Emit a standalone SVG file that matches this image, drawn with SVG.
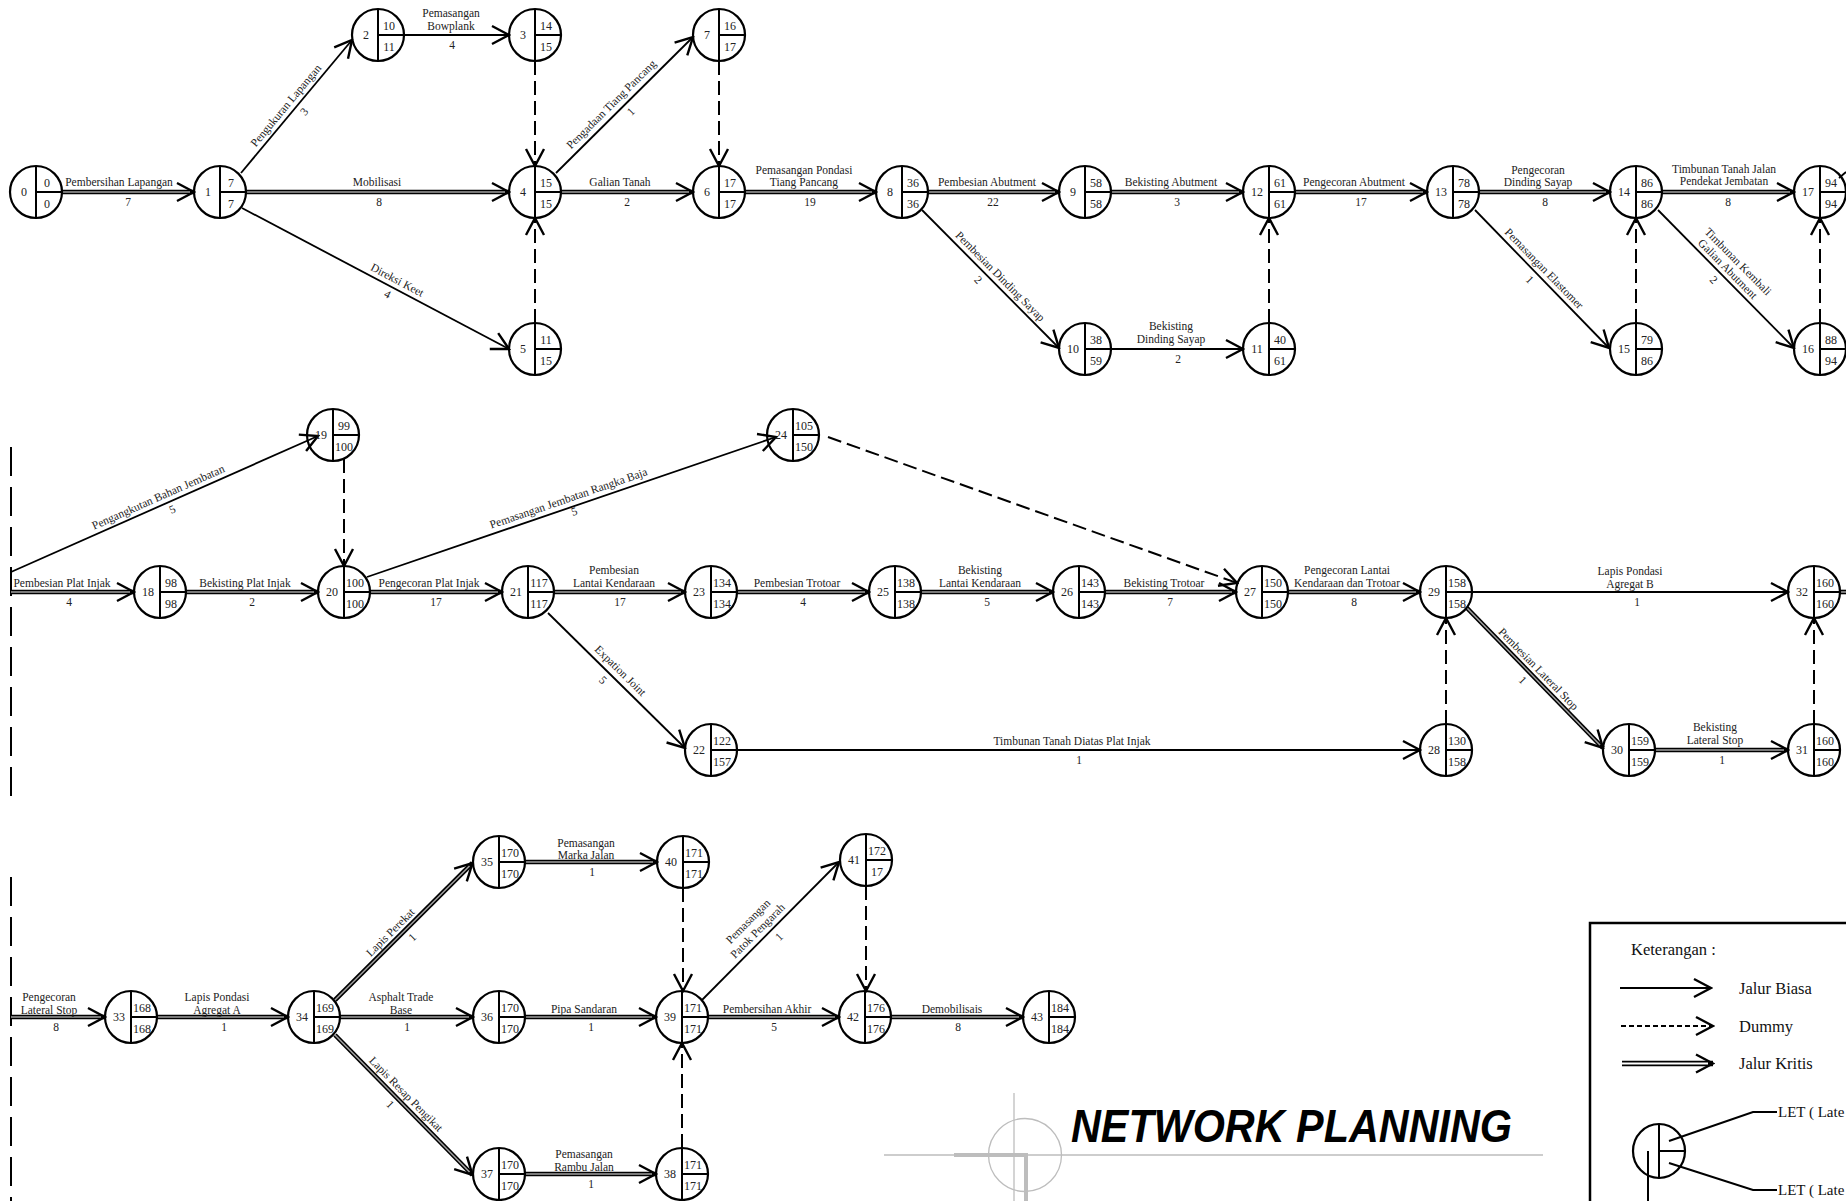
<svg xmlns="http://www.w3.org/2000/svg" width="1846" height="1201" viewBox="0 0 1846 1201">
<defs>
<marker id="ah" viewBox="-20 -12 22 24" refX="0" refY="0" markerWidth="22" markerHeight="24" markerUnits="userSpaceOnUse" orient="auto">
<path d="M-17,-9 L0,0 L-17,9" fill="none" stroke="#000" stroke-width="2.4"/>
</marker>
<style>
text{font-family:"Liberation Serif","Times New Roman",serif;font-size:11.5px;fill:#222}
.lb{text-anchor:middle}
.node circle{fill:none;stroke:#000;stroke-width:2.2}
.node line{stroke:#000;stroke-width:2}
.node text{font-size:12px;text-anchor:middle}
.nm{stroke:#000;stroke-width:1.8;fill:none;marker-end:url(#ah)}
.cr{stroke:#000;stroke-width:4.6;fill:none;marker-end:url(#ah)}
.ci{stroke:#a0a0a0;stroke-width:1.5;fill:none}
.dm{stroke:#000;stroke-width:2;stroke-dasharray:14 6;fill:none;marker-end:url(#ah)}
.brk{stroke:#000;stroke-width:2;stroke-dasharray:29 11;fill:none}
.gr{stroke:#bdbdbd;fill:none}
.lg{font-size:16.5px;fill:#111}
.lt{font-size:15px;fill:#111}
</style>
</defs>
<rect width="1846" height="1201" fill="#fff"/>

<g id="connectors">
<line class="cr" x1="62" y1="192" x2="194" y2="192"/><line class="ci" x1="62" y1="192" x2="190" y2="192"/>
<line class="cr" x1="246" y1="192" x2="509" y2="192"/><line class="ci" x1="246" y1="192" x2="505" y2="192"/>
<line class="nm" x1="241" y1="173" x2="352" y2="40"/>
<line class="nm" x1="242" y1="208" x2="509" y2="349"/>
<line class="nm" x1="404" y1="35" x2="509" y2="35"/>
<line class="dm" x1="535" y1="61" x2="535" y2="166"/>
<line class="dm" x1="535" y1="323" x2="535" y2="218"/>
<line class="cr" x1="561" y1="192" x2="693" y2="192"/><line class="ci" x1="561" y1="192" x2="689" y2="192"/>
<line class="nm" x1="556" y1="173" x2="693" y2="37"/>
<line class="dm" x1="719" y1="61" x2="719" y2="166"/>
<line class="cr" x1="745" y1="192" x2="876" y2="192"/><line class="ci" x1="745" y1="192" x2="872" y2="192"/>
<line class="cr" x1="928" y1="192" x2="1059" y2="192"/><line class="ci" x1="928" y1="192" x2="1055" y2="192"/>
<line class="nm" x1="922" y1="210" x2="1059" y2="348"/>
<line class="cr" x1="1111" y1="192" x2="1243" y2="192"/><line class="ci" x1="1111" y1="192" x2="1239" y2="192"/>
<line class="nm" x1="1111" y1="349" x2="1243" y2="349"/>
<line class="dm" x1="1269" y1="323" x2="1269" y2="218"/>
<line class="cr" x1="1295" y1="192" x2="1427" y2="192"/><line class="ci" x1="1295" y1="192" x2="1423" y2="192"/>
<line class="cr" x1="1479" y1="192" x2="1610" y2="192"/><line class="ci" x1="1479" y1="192" x2="1606" y2="192"/>
<line class="nm" x1="1475" y1="210" x2="1609" y2="348"/>
<line class="cr" x1="1662" y1="192" x2="1794" y2="192"/><line class="ci" x1="1662" y1="192" x2="1790" y2="192"/>
<line class="nm" x1="1658" y1="210" x2="1794" y2="348"/>
<line class="dm" x1="1636" y1="323" x2="1636" y2="218"/>
<line class="dm" x1="1820" y1="323" x2="1820" y2="218"/>
<line stroke="#000" stroke-width="1.8" x1="1839" y1="178" x2="1846" y2="172"/>
<line class="brk" x1="11" y1="447" x2="11" y2="797"/>
<line class="nm" x1="11" y1="572" x2="318" y2="436"/>
<line class="cr" x1="11" y1="592" x2="134" y2="592"/><line class="ci" x1="11" y1="592" x2="130" y2="592"/>
<line class="dm" x1="344" y1="459" x2="344" y2="566"/>
<line class="cr" x1="186" y1="592" x2="318" y2="592"/><line class="ci" x1="186" y1="592" x2="314" y2="592"/>
<line class="cr" x1="370" y1="592" x2="502" y2="592"/><line class="ci" x1="370" y1="592" x2="498" y2="592"/>
<line class="nm" x1="367" y1="577" x2="776" y2="437"/>
<line class="cr" x1="554" y1="592" x2="685" y2="592"/><line class="ci" x1="554" y1="592" x2="681" y2="592"/>
<line class="nm" x1="548" y1="613" x2="685" y2="748"/>
<line class="cr" x1="737" y1="592" x2="869" y2="592"/><line class="ci" x1="737" y1="592" x2="865" y2="592"/>
<line class="cr" x1="921" y1="592" x2="1053" y2="592"/><line class="ci" x1="921" y1="592" x2="1049" y2="592"/>
<line class="cr" x1="1105" y1="592" x2="1236" y2="592"/><line class="ci" x1="1105" y1="592" x2="1232" y2="592"/>
<line class="dm" x1="828" y1="437" x2="1237" y2="583"/>
<line class="nm" x1="737" y1="750" x2="1420" y2="750"/>
<line class="cr" x1="1288" y1="592" x2="1420" y2="592"/><line class="ci" x1="1288" y1="592" x2="1416" y2="592"/>
<line class="dm" x1="1446" y1="724" x2="1446" y2="618"/>
<line class="nm" x1="1472" y1="592" x2="1788" y2="592"/>
<line class="cr" x1="1467" y1="608" x2="1603" y2="748"/><line class="ci" x1="1467" y1="608" x2="1600" y2="745"/>
<line class="cr" x1="1655" y1="750" x2="1788" y2="750"/><line class="ci" x1="1655" y1="750" x2="1784" y2="750"/>
<line class="dm" x1="1814" y1="724" x2="1814" y2="618"/>
<line stroke="#000" stroke-width="4.6" x1="1840" y1="592" x2="1846" y2="592"/><line class="ci" x1="1840" y1="592" x2="1846" y2="592"/>
<line class="brk" x1="11" y1="877" x2="11" y2="1201"/>
<line class="cr" x1="11" y1="1017" x2="105" y2="1017"/><line class="ci" x1="11" y1="1017" x2="101" y2="1017"/>
<line class="cr" x1="157" y1="1017" x2="288" y2="1017"/><line class="ci" x1="157" y1="1017" x2="284" y2="1017"/>
<line class="cr" x1="335" y1="1000" x2="472.5" y2="863"/><line class="ci" x1="335" y1="1000" x2="469.5" y2="866"/>
<line class="cr" x1="340" y1="1017" x2="473" y2="1017"/><line class="ci" x1="340" y1="1017" x2="469" y2="1017"/>
<line class="cr" x1="335" y1="1035" x2="472.5" y2="1175"/><line class="ci" x1="335" y1="1035" x2="469.5" y2="1172"/>
<line class="cr" x1="525" y1="862" x2="657" y2="862"/><line class="ci" x1="525" y1="862" x2="653" y2="862"/>
<line class="cr" x1="525" y1="1017" x2="656" y2="1017"/><line class="ci" x1="525" y1="1017" x2="652" y2="1017"/>
<line class="cr" x1="525" y1="1174" x2="656" y2="1174"/><line class="ci" x1="525" y1="1174" x2="652" y2="1174"/>
<line class="dm" x1="683" y1="888" x2="683" y2="991"/>
<line class="dm" x1="682" y1="1148" x2="682" y2="1043"/>
<line class="nm" x1="702" y1="1000" x2="839" y2="862"/>
<line class="dm" x1="866" y1="886" x2="866" y2="991"/>
<line class="cr" x1="708" y1="1017" x2="839" y2="1017"/><line class="ci" x1="708" y1="1017" x2="835" y2="1017"/>
<line class="cr" x1="891" y1="1017" x2="1023" y2="1017"/><line class="ci" x1="891" y1="1017" x2="1019" y2="1017"/>
</g>

<g id="labels">
<text class="lb" x="119" y="186">Pembersihan Lapangan</text><text class="lb" x="128" y="206">7</text>
<text class="lb" x="377" y="186">Mobilisasi</text><text class="lb" x="379" y="206">8</text>
<text class="lb" x="451" y="17">Pemasangan</text><text class="lb" x="451" y="29.5">Bowplank</text><text class="lb" x="452" y="49">4</text>
<text class="lb" x="620" y="186">Galian Tanah</text><text class="lb" x="627" y="206">2</text>
<text class="lb" x="804" y="173.5">Pemasangan Pondasi</text><text class="lb" x="804" y="186">Tiang Pancang</text><text class="lb" x="810" y="206">19</text>
<text class="lb" x="987" y="186">Pembesian Abutment</text><text class="lb" x="993" y="206">22</text>
<text class="lb" x="1171" y="186">Bekisting Abutment</text><text class="lb" x="1177" y="206">3</text>
<text class="lb" x="1171" y="330">Bekisting</text><text class="lb" x="1171" y="343">Dinding Sayap</text><text class="lb" x="1178" y="363">2</text>
<text class="lb" x="1354" y="186">Pengecoran Abutment</text><text class="lb" x="1361" y="206">17</text>
<text class="lb" x="1538" y="173.5">Pengecoran</text><text class="lb" x="1538" y="186">Dinding Sayap</text><text class="lb" x="1545" y="206">8</text>
<text class="lb" x="1724" y="172.5">Timbunan Tanah Jalan</text><text class="lb" x="1724" y="185">Pendekat Jembatan</text><text class="lb" x="1728" y="206">8</text>
<g transform="translate(296.5 106.5) rotate(-50.2)"><text class="lb" x="-6" y="-5">Pengukuran Lapangan</text><text class="lb" x="1" y="13">3</text></g>
<g transform="translate(375.5 278.5) rotate(27.8)"><text class="lb" x="20" y="-5">Direksi Keet</text><text class="lb" x="18" y="12">4</text></g>
<g transform="translate(624.5 105) rotate(-44.8)"><text class="lb" x="-9" y="-6">Pengadaan Tiang Pancang</text><text class="lb" x="0" y="13">1</text></g>
<g transform="translate(990.5 279) rotate(45.2)"><text class="lb" x="5" y="-5">Pembesian Dinding Sayap</text><text class="lb" x="-8" y="13">2</text></g>
<g transform="translate(1542 279) rotate(45.8)"><text class="lb" x="-6" y="-5">Pemasangan Elastomer</text><text class="lb" x="-8" y="13">1</text></g>
<g transform="translate(1726 279) rotate(45.4)"><text class="lb" x="-4" y="-17">Timbunan Kembali</text><text class="lb" x="-6" y="-4.5">Galian Abutment</text><text class="lb" x="-8" y="13">2</text></g>

<text class="lb" x="62" y="587">Pembesian Plat Injak</text><text class="lb" x="69" y="606">4</text>
<text class="lb" x="245" y="587">Bekisting Plat Injak</text><text class="lb" x="252" y="606">2</text>
<text class="lb" x="429" y="587">Pengecoran Plat Injak</text><text class="lb" x="436" y="606">17</text>
<text class="lb" x="614" y="574">Pembesian</text><text class="lb" x="614" y="587">Lantai Kendaraan</text><text class="lb" x="620" y="606">17</text>
<text class="lb" x="797" y="587">Pembesian Trotoar</text><text class="lb" x="803" y="606">4</text>
<text class="lb" x="980" y="574">Bekisting</text><text class="lb" x="980" y="587">Lantai Kendaraan</text><text class="lb" x="987" y="606">5</text>
<text class="lb" x="1164" y="587">Bekisting Trotoar</text><text class="lb" x="1170" y="606">7</text>
<text class="lb" x="1347" y="574">Pengecoran Lantai</text><text class="lb" x="1347" y="587">Kendaraan dan Trotoar</text><text class="lb" x="1354" y="606">8</text>
<text class="lb" x="1630" y="575">Lapis Pondasi</text><text class="lb" x="1630" y="588">Agregat B</text><text class="lb" x="1637" y="606">1</text>
<text class="lb" x="1072" y="745">Timbunan Tanah Diatas Plat Injak</text><text class="lb" x="1079" y="764">1</text>
<text class="lb" x="1715" y="730.5">Bekisting</text><text class="lb" x="1715" y="744">Lateral Stop</text><text class="lb" x="1722" y="764">1</text>
<g transform="translate(164.5 504) rotate(-23.9)"><text class="lb" x="-3" y="-5">Pengangkutan Bahan Jembatan</text><text class="lb" x="5" y="12">5</text></g>
<g transform="translate(571.5 507) rotate(-18.9)"><text class="lb" x="0" y="-5.5">Pemasangan Jembatan Rangka Baja</text><text class="lb" x="1" y="9">5</text></g>
<g transform="translate(616.5 680.5) rotate(44.6)"><text class="lb" x="-4" y="-6">Expation Joint</text><text class="lb" x="-10" y="13">5</text></g>
<g transform="translate(1535 678) rotate(45.8)"><text class="lb" x="-4" y="-5">Pembesian Lateral Stop</text><text class="lb" x="-7" y="14">1</text></g>

<text class="lb" x="49" y="1001">Pengecoran</text><text class="lb" x="49" y="1013.5">Lateral Stop</text><text class="lb" x="56" y="1031">8</text>
<text class="lb" x="217" y="1001">Lapis Pondasi</text><text class="lb" x="217" y="1013.5">Agregat A</text><text class="lb" x="224" y="1031">1</text>
<text class="lb" x="401" y="1001">Asphalt Trade</text><text class="lb" x="401" y="1013.5">Base</text><text class="lb" x="407" y="1031">1</text>
<text class="lb" x="584" y="1013">Pipa Sandaran</text><text class="lb" x="591" y="1031">1</text>
<text class="lb" x="767" y="1013">Pembersihan Akhir</text><text class="lb" x="774" y="1031">5</text>
<text class="lb" x="952" y="1013">Demobilisais</text><text class="lb" x="958" y="1031">8</text>
<text class="lb" x="586" y="846.5">Pemasangan</text><text class="lb" x="586" y="859">Marka Jalan</text><text class="lb" x="592" y="876">1</text>
<text class="lb" x="584" y="1158">Pemasangan</text><text class="lb" x="584" y="1170.5">Rambu Jalan</text><text class="lb" x="591" y="1188">1</text>
<g transform="translate(403.7 931.5) rotate(-44.9)"><text class="lb" x="-10" y="-5">Lapis Perekat</text><text class="lb" x="2" y="14">1</text></g>
<g transform="translate(403.7 1105) rotate(45.5)"><text class="lb" x="-6" y="-5.5">Lapis Resap Pengikat</text><text class="lb" x="-10" y="13">1</text></g>
<g transform="translate(770.5 931) rotate(-45.2)"><text class="lb" x="-9" y="-19">Pemasangan</text><text class="lb" x="-9" y="-5.5">Patok Pengarah</text><text class="lb" x="2" y="14">1</text></g>
</g>

<g id="nodes">
<g id="node-0" class="node" transform="translate(36,192)"><circle r="26"/><line x1="0" y1="-26" x2="0" y2="26"/><line x1="0" y1="0" x2="26" y2="0"/><text x="-12" y="4">0</text><text x="11" y="-5">0</text><text x="11" y="16">0</text></g>
<g id="node-1" class="node" transform="translate(220,192)"><circle r="26"/><line x1="0" y1="-26" x2="0" y2="26"/><line x1="0" y1="0" x2="26" y2="0"/><text x="-12" y="4">1</text><text x="11" y="-5">7</text><text x="11" y="16">7</text></g>
<g id="node-2" class="node" transform="translate(378,35)"><circle r="26"/><line x1="0" y1="-26" x2="0" y2="26"/><line x1="0" y1="0" x2="26" y2="0"/><text x="-12" y="4">2</text><text x="11" y="-5">10</text><text x="11" y="16">11</text></g>
<g id="node-3" class="node" transform="translate(535,35)"><circle r="26"/><line x1="0" y1="-26" x2="0" y2="26"/><line x1="0" y1="0" x2="26" y2="0"/><text x="-12" y="4">3</text><text x="11" y="-5">14</text><text x="11" y="16">15</text></g>
<g id="node-4" class="node" transform="translate(535,192)"><circle r="26"/><line x1="0" y1="-26" x2="0" y2="26"/><line x1="0" y1="0" x2="26" y2="0"/><text x="-12" y="4">4</text><text x="11" y="-5">15</text><text x="11" y="16">15</text></g>
<g id="node-5" class="node" transform="translate(535,349)"><circle r="26"/><line x1="0" y1="-26" x2="0" y2="26"/><line x1="0" y1="0" x2="26" y2="0"/><text x="-12" y="4">5</text><text x="11" y="-5">11</text><text x="11" y="16">15</text></g>
<g id="node-6" class="node" transform="translate(719,192)"><circle r="26"/><line x1="0" y1="-26" x2="0" y2="26"/><line x1="0" y1="0" x2="26" y2="0"/><text x="-12" y="4">6</text><text x="11" y="-5">17</text><text x="11" y="16">17</text></g>
<g id="node-7" class="node" transform="translate(719,35)"><circle r="26"/><line x1="0" y1="-26" x2="0" y2="26"/><line x1="0" y1="0" x2="26" y2="0"/><text x="-12" y="4">7</text><text x="11" y="-5">16</text><text x="11" y="16">17</text></g>
<g id="node-8" class="node" transform="translate(902,192)"><circle r="26"/><line x1="0" y1="-26" x2="0" y2="26"/><line x1="0" y1="0" x2="26" y2="0"/><text x="-12" y="4">8</text><text x="11" y="-5">36</text><text x="11" y="16">36</text></g>
<g id="node-9" class="node" transform="translate(1085,192)"><circle r="26"/><line x1="0" y1="-26" x2="0" y2="26"/><line x1="0" y1="0" x2="26" y2="0"/><text x="-12" y="4">9</text><text x="11" y="-5">58</text><text x="11" y="16">58</text></g>
<g id="node-10" class="node" transform="translate(1085,349)"><circle r="26"/><line x1="0" y1="-26" x2="0" y2="26"/><line x1="0" y1="0" x2="26" y2="0"/><text x="-12" y="4">10</text><text x="11" y="-5">38</text><text x="11" y="16">59</text></g>
<g id="node-11" class="node" transform="translate(1269,349)"><circle r="26"/><line x1="0" y1="-26" x2="0" y2="26"/><line x1="0" y1="0" x2="26" y2="0"/><text x="-12" y="4">11</text><text x="11" y="-5">40</text><text x="11" y="16">61</text></g>
<g id="node-12" class="node" transform="translate(1269,192)"><circle r="26"/><line x1="0" y1="-26" x2="0" y2="26"/><line x1="0" y1="0" x2="26" y2="0"/><text x="-12" y="4">12</text><text x="11" y="-5">61</text><text x="11" y="16">61</text></g>
<g id="node-13" class="node" transform="translate(1453,192)"><circle r="26"/><line x1="0" y1="-26" x2="0" y2="26"/><line x1="0" y1="0" x2="26" y2="0"/><text x="-12" y="4">13</text><text x="11" y="-5">78</text><text x="11" y="16">78</text></g>
<g id="node-14" class="node" transform="translate(1636,192)"><circle r="26"/><line x1="0" y1="-26" x2="0" y2="26"/><line x1="0" y1="0" x2="26" y2="0"/><text x="-12" y="4">14</text><text x="11" y="-5">86</text><text x="11" y="16">86</text></g>
<g id="node-15" class="node" transform="translate(1636,349)"><circle r="26"/><line x1="0" y1="-26" x2="0" y2="26"/><line x1="0" y1="0" x2="26" y2="0"/><text x="-12" y="4">15</text><text x="11" y="-5">79</text><text x="11" y="16">86</text></g>
<g id="node-16" class="node" transform="translate(1820,349)"><circle r="26"/><line x1="0" y1="-26" x2="0" y2="26"/><line x1="0" y1="0" x2="26" y2="0"/><text x="-12" y="4">16</text><text x="11" y="-5">88</text><text x="11" y="16">94</text></g>
<g id="node-17" class="node" transform="translate(1820,192)"><circle r="26"/><line x1="0" y1="-26" x2="0" y2="26"/><line x1="0" y1="0" x2="26" y2="0"/><text x="-12" y="4">17</text><text x="11" y="-5">94</text><text x="11" y="16">94</text></g>
<g id="node-18" class="node" transform="translate(160,592)"><circle r="26"/><line x1="0" y1="-26" x2="0" y2="26"/><line x1="0" y1="0" x2="26" y2="0"/><text x="-12" y="4">18</text><text x="11" y="-5">98</text><text x="11" y="16">98</text></g>
<g id="node-19" class="node" transform="translate(333,435)"><circle r="26"/><line x1="0" y1="-26" x2="0" y2="26"/><line x1="0" y1="0" x2="26" y2="0"/><text x="-12" y="4">19</text><text x="11" y="-5">99</text><text x="11" y="16">100</text></g>
<g id="node-20" class="node" transform="translate(344,592)"><circle r="26"/><line x1="0" y1="-26" x2="0" y2="26"/><line x1="0" y1="0" x2="26" y2="0"/><text x="-12" y="4">20</text><text x="11" y="-5">100</text><text x="11" y="16">100</text></g>
<g id="node-21" class="node" transform="translate(528,592)"><circle r="26"/><line x1="0" y1="-26" x2="0" y2="26"/><line x1="0" y1="0" x2="26" y2="0"/><text x="-12" y="4">21</text><text x="11" y="-5">117</text><text x="11" y="16">117</text></g>
<g id="node-22" class="node" transform="translate(711,750)"><circle r="26"/><line x1="0" y1="-26" x2="0" y2="26"/><line x1="0" y1="0" x2="26" y2="0"/><text x="-12" y="4">22</text><text x="11" y="-5">122</text><text x="11" y="16">157</text></g>
<g id="node-23" class="node" transform="translate(711,592)"><circle r="26"/><line x1="0" y1="-26" x2="0" y2="26"/><line x1="0" y1="0" x2="26" y2="0"/><text x="-12" y="4">23</text><text x="11" y="-5">134</text><text x="11" y="16">134</text></g>
<g id="node-24" class="node" transform="translate(793,435)"><circle r="26"/><line x1="0" y1="-26" x2="0" y2="26"/><line x1="0" y1="0" x2="26" y2="0"/><text x="-12" y="4">24</text><text x="11" y="-5">105</text><text x="11" y="16">150</text></g>
<g id="node-25" class="node" transform="translate(895,592)"><circle r="26"/><line x1="0" y1="-26" x2="0" y2="26"/><line x1="0" y1="0" x2="26" y2="0"/><text x="-12" y="4">25</text><text x="11" y="-5">138</text><text x="11" y="16">138</text></g>
<g id="node-26" class="node" transform="translate(1079,592)"><circle r="26"/><line x1="0" y1="-26" x2="0" y2="26"/><line x1="0" y1="0" x2="26" y2="0"/><text x="-12" y="4">26</text><text x="11" y="-5">143</text><text x="11" y="16">143</text></g>
<g id="node-27" class="node" transform="translate(1262,592)"><circle r="26"/><line x1="0" y1="-26" x2="0" y2="26"/><line x1="0" y1="0" x2="26" y2="0"/><text x="-12" y="4">27</text><text x="11" y="-5">150</text><text x="11" y="16">150</text></g>
<g id="node-28" class="node" transform="translate(1446,750)"><circle r="26"/><line x1="0" y1="-26" x2="0" y2="26"/><line x1="0" y1="0" x2="26" y2="0"/><text x="-12" y="4">28</text><text x="11" y="-5">130</text><text x="11" y="16">158</text></g>
<g id="node-29" class="node" transform="translate(1446,592)"><circle r="26"/><line x1="0" y1="-26" x2="0" y2="26"/><line x1="0" y1="0" x2="26" y2="0"/><text x="-12" y="4">29</text><text x="11" y="-5">158</text><text x="11" y="16">158</text></g>
<g id="node-30" class="node" transform="translate(1629,750)"><circle r="26"/><line x1="0" y1="-26" x2="0" y2="26"/><line x1="0" y1="0" x2="26" y2="0"/><text x="-12" y="4">30</text><text x="11" y="-5">159</text><text x="11" y="16">159</text></g>
<g id="node-31" class="node" transform="translate(1814,750)"><circle r="26"/><line x1="0" y1="-26" x2="0" y2="26"/><line x1="0" y1="0" x2="26" y2="0"/><text x="-12" y="4">31</text><text x="11" y="-5">160</text><text x="11" y="16">160</text></g>
<g id="node-32" class="node" transform="translate(1814,592)"><circle r="26"/><line x1="0" y1="-26" x2="0" y2="26"/><line x1="0" y1="0" x2="26" y2="0"/><text x="-12" y="4">32</text><text x="11" y="-5">160</text><text x="11" y="16">160</text></g>
<g id="node-33" class="node" transform="translate(131,1017)"><circle r="26"/><line x1="0" y1="-26" x2="0" y2="26"/><line x1="0" y1="0" x2="26" y2="0"/><text x="-12" y="4">33</text><text x="11" y="-5">168</text><text x="11" y="16">168</text></g>
<g id="node-34" class="node" transform="translate(314,1017)"><circle r="26"/><line x1="0" y1="-26" x2="0" y2="26"/><line x1="0" y1="0" x2="26" y2="0"/><text x="-12" y="4">34</text><text x="11" y="-5">169</text><text x="11" y="16">169</text></g>
<g id="node-35" class="node" transform="translate(499,862)"><circle r="26"/><line x1="0" y1="-26" x2="0" y2="26"/><line x1="0" y1="0" x2="26" y2="0"/><text x="-12" y="4">35</text><text x="11" y="-5">170</text><text x="11" y="16">170</text></g>
<g id="node-36" class="node" transform="translate(499,1017)"><circle r="26"/><line x1="0" y1="-26" x2="0" y2="26"/><line x1="0" y1="0" x2="26" y2="0"/><text x="-12" y="4">36</text><text x="11" y="-5">170</text><text x="11" y="16">170</text></g>
<g id="node-37" class="node" transform="translate(499,1174)"><circle r="26"/><line x1="0" y1="-26" x2="0" y2="26"/><line x1="0" y1="0" x2="26" y2="0"/><text x="-12" y="4">37</text><text x="11" y="-5">170</text><text x="11" y="16">170</text></g>
<g id="node-38" class="node" transform="translate(682,1174)"><circle r="26"/><line x1="0" y1="-26" x2="0" y2="26"/><line x1="0" y1="0" x2="26" y2="0"/><text x="-12" y="4">38</text><text x="11" y="-5">171</text><text x="11" y="16">171</text></g>
<g id="node-39" class="node" transform="translate(682,1017)"><circle r="26"/><line x1="0" y1="-26" x2="0" y2="26"/><line x1="0" y1="0" x2="26" y2="0"/><text x="-12" y="4">39</text><text x="11" y="-5">171</text><text x="11" y="16">171</text></g>
<g id="node-40" class="node" transform="translate(683,862)"><circle r="26"/><line x1="0" y1="-26" x2="0" y2="26"/><line x1="0" y1="0" x2="26" y2="0"/><text x="-12" y="4">40</text><text x="11" y="-5">171</text><text x="11" y="16">171</text></g>
<g id="node-41" class="node" transform="translate(866,860)"><circle r="26"/><line x1="0" y1="-26" x2="0" y2="26"/><line x1="0" y1="0" x2="26" y2="0"/><text x="-12" y="4">41</text><text x="11" y="-5">172</text><text x="11" y="16">17</text></g>
<g id="node-42" class="node" transform="translate(865,1017)"><circle r="26"/><line x1="0" y1="-26" x2="0" y2="26"/><line x1="0" y1="0" x2="26" y2="0"/><text x="-12" y="4">42</text><text x="11" y="-5">176</text><text x="11" y="16">176</text></g>
<g id="node-43" class="node" transform="translate(1049,1017)"><circle r="26"/><line x1="0" y1="-26" x2="0" y2="26"/><line x1="0" y1="0" x2="26" y2="0"/><text x="-12" y="4">43</text><text x="11" y="-5">184</text><text x="11" y="16">184</text></g>
</g>

<g id="title">
<line class="gr" stroke-width="1.5" x1="884" y1="1155" x2="1543" y2="1155"/>
<circle class="gr" stroke-width="1.3" cx="1025" cy="1155" r="36.5"/>
<line class="gr" stroke-width="1.3" x1="1014" y1="1093" x2="1014" y2="1201"/>
<polyline class="gr" stroke="#b8b8b8" stroke-width="4" points="954,1155 1026,1155 1026,1201"/>
<text x="1071" y="1142" style="font-family:'Liberation Sans',Arial,sans-serif;font-size:47px;font-weight:bold;font-style:italic;fill:#000" textLength="441" lengthAdjust="spacingAndGlyphs">NETWORK PLANNING</text>
</g>

<g id="legend">
<rect x="1590" y="923" width="300" height="320" fill="none" stroke="#000" stroke-width="2.5"/>
<text class="lg" x="1631" y="955">Keterangan :</text>
<line class="nm" x1="1620" y1="988" x2="1711" y2="988"/>
<text class="lg" x="1739" y="994">Jalur Biasa</text>
<line x1="1621" y1="1026" x2="1713" y2="1026" stroke="#000" stroke-width="1.8" stroke-dasharray="5 3" marker-end="url(#ah)"/>
<text class="lg" x="1739" y="1032">Dummy</text>
<line x1="1622" y1="1063.5" x2="1713" y2="1063.5" stroke="#000" stroke-width="5.5" marker-end="url(#ah)"/>
<line x1="1622" y1="1063.5" x2="1708" y2="1063.5" stroke="#fff" stroke-width="2"/>
<text class="lg" x="1739" y="1069">Jalur Kritis</text>
<ellipse cx="1659" cy="1151" rx="26" ry="27" fill="none" stroke="#000" stroke-width="2.2"/>
<line x1="1659" y1="1124" x2="1659" y2="1178" stroke="#000" stroke-width="2"/>
<line x1="1659" y1="1151" x2="1685" y2="1151" stroke="#000" stroke-width="2"/>
<line x1="1648" y1="1151" x2="1648" y2="1201" stroke="#000" stroke-width="2"/>
<polyline points="1669,1141 1753,1112 1777,1112" fill="none" stroke="#000" stroke-width="2"/>
<polyline points="1669,1163 1753,1190 1777,1190" fill="none" stroke="#000" stroke-width="2"/>
<text class="lt" x="1778" y="1117">LET ( Late</text>
<text class="lt" x="1778" y="1195">LET ( Late</text>
</g>
</svg>
